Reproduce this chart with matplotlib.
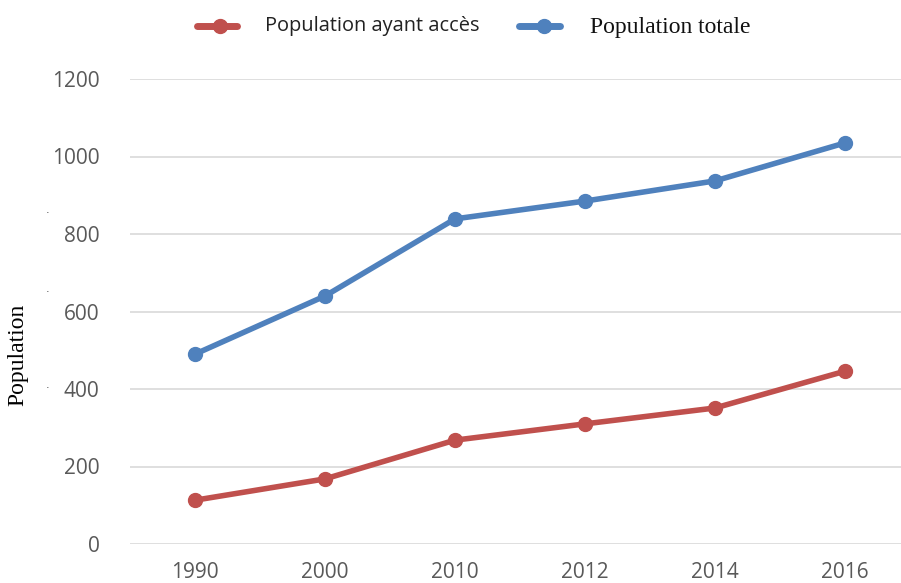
import matplotlib.pyplot as plt
from matplotlib.lines import Line2D

# Population series by year (thousands)
years = ['1990', '2000', '2010', '2012', '2014', '2016']
pop_acces = [113, 168, 268, 310, 351, 446]
pop_totale = [490, 640, 839, 885, 937, 1035]

red = '#C0504D'
blue = '#4F81BD'
tick_font = ['Liberation Sans Narrow', 'Open Sans', 'DejaVu Sans']
serif_font = ['Liberation Serif', 'DejaVu Serif']

W, H = 901, 583
fig = plt.figure(figsize=(W / 100, H / 100), dpi=100)
ax = fig.add_axes([130 / W, (H - 544) / H, (W - 130) / W, 465 / H])

x = list(range(len(years)))
ax.plot(x, pop_acces, color=red, lw=4, marker='o', ms=10, solid_capstyle='round', zorder=3)
ax.plot(x, pop_totale, color=blue, lw=4, marker='o', ms=10, solid_capstyle='round', zorder=3)

ax.set_xlim(-0.5, (W - 195) / 130)
ax.set_ylim(0, 1200)
ax.set_yticks(range(0, 1201, 200))
ax.set_xticks(x)
ax.set_xticklabels(years)
ax.yaxis.grid(True, color='#D9D9D9', lw=1.2)
ax.set_axisbelow(True)
for s in ax.spines.values():
    s.set_visible(False)
ax.tick_params(length=0, labelsize=15, labelcolor='#595959')
ax.tick_params(axis='y', pad=22)
ax.tick_params(axis='x', pad=13)
for lab in ax.get_xticklabels() + ax.get_yticklabels():
    lab.set_family(tick_font)

fig.text(18 / W, 1 - 355 / H, 'Population', rotation=90, ha='center', va='center',
         fontsize=17, family=serif_font)
for yy in (210, 289, 385):
    fig.text(48 / W, 1 - yy / H, '.', ha='center', va='center', fontsize=8, color='#444444')

# legend drawn in figure coordinates
ly = 1 - 26 / H
fig.add_artist(Line2D([197 / W, 237 / W], [ly, ly], color=red, lw=5, solid_capstyle='round'))
fig.add_artist(Line2D([220 / W], [ly], color=red, marker='o', ms=10))
fig.text(265 / W, 1 - 26 / H, 'Population ayant accès', ha='left', va='center',
         fontsize=14.4, family=tick_font, color='#222222')
fig.add_artist(Line2D([519 / W, 560 / W], [ly, ly], color=blue, lw=5, solid_capstyle='round'))
fig.add_artist(Line2D([544 / W], [ly], color=blue, marker='o', ms=10))
fig.text(590 / W, 1 - 28 / H, 'Population totale', ha='left', va='center',
         fontsize=17, family=serif_font, color='#111111')

fig.savefig('out.png', dpi=100)
